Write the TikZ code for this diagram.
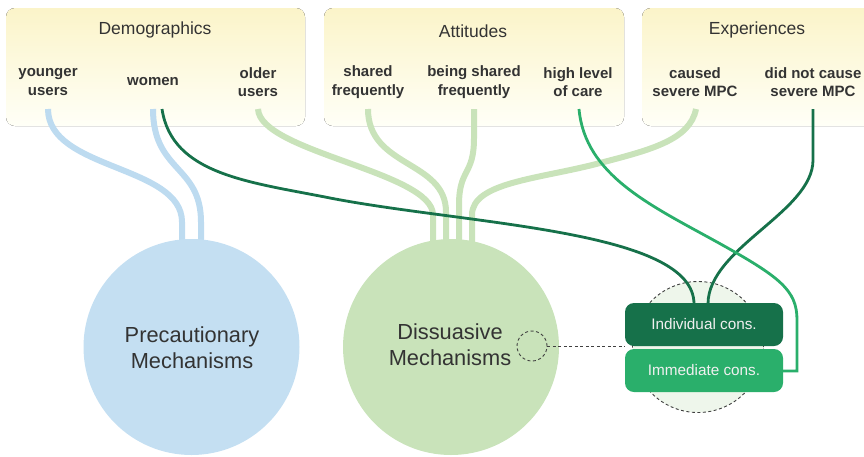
\documentclass[tikz,border=0pt]{standalone}
\usepackage{fontspec}
\setmainfont{Liberation Sans}
\definecolor{txt}{HTML}{333333}
\definecolor{boxtop}{HTML}{FBF4C9}
\definecolor{boxbot}{HTML}{FFFFF7}
\definecolor{lblue}{HTML}{C4DFF2}
\definecolor{lblueline}{HTML}{BDDBF0}
\definecolor{lgreen}{HTML}{C9E3BA}
\definecolor{lgreenline}{HTML}{C9E3BA}
\definecolor{dgreen}{HTML}{16714A}
\definecolor{mgreen}{HTML}{2AAF6B}
\definecolor{halo}{HTML}{EEF6EB}
\tikzset{
  groupbox/.style={top color=boxtop, bottom color=boxbot, rounded corners=9pt, draw=none},
  grouptitle/.style={text=txt, font=\fontsize{17.5}{20}\selectfont, inner sep=0pt},
  factor/.style={text=txt, font=\bfseries\fontsize{15}{18.5}\selectfont, align=center, inner sep=0pt},
  mech/.style={circle, draw=none, minimum size=216pt, inner sep=0pt},
  mechtext/.style={text=txt, align=center, font=\fontsize{21.8}{26}\selectfont, inner sep=0pt},
  consbox/.style={rounded corners=9pt, minimum width=158pt, minimum height=43pt, inner sep=0pt, text={white!94!black}, font=\fontsize{15.3}{18}\selectfont},
  softline/.style={line width=6pt},
  hardline/.style={line width=2.8pt},
  dashring/.style={draw={black!75}, dash pattern=on 3pt off 2.5pt, line width=0.9pt}
}
\begin{document}
\begin{tikzpicture}[x=1pt,y=-1pt]
\useasboundingbox (0,0) rectangle (864,456);
% group boxes
\fill[groupbox] (6,8) rectangle (305,126);
\fill[groupbox] (324,8) rectangle (624,126);
\fill[groupbox] (642,8) rectangle (880,126);
\node[grouptitle] (tdem) at (155,30) {Demographics};
\node[grouptitle] (tatt) at (473,31) {Attitudes};
\node[grouptitle] (texp) at (757,30) {Experiences};
% factor labels
\node[factor] (young) at (48,82) {younger\\users};
\node[factor] (women) at (153,82) {women};
\node[factor] (older) at (258,82) {older\\users};
\node[factor] (shared) at (368,82) {shared\\frequently};
\node[factor] (being) at (474,82) {being shared\\frequently};
\node[factor] (care) at (578,82) {high level\\of care};
\node[factor] (caused) at (695,82) {caused\\severe MPC};
\node[factor] (notcause) at (813,82) {did not cause\\severe MPC};
% connector start points
\coordinate (s-young) at (48,109);
\coordinate (s-womenA) at (153,109);
\coordinate (s-womenB) at (162,109);
\coordinate (s-older) at (258,109);
\coordinate (s-shared) at (368,109);
\coordinate (s-being) at (474,109);
\coordinate (s-care) at (579,109);
\coordinate (s-caused) at (696,109);
\coordinate (s-not) at (813,109);
% halo behind consequence boxes
\node[circle, fill=halo, dashring, minimum size=131pt, inner sep=0pt] (halo) at (698,347) {};
% entry points
\coordinate (p-in1) at (182,244);
\coordinate (p-in2) at (201,244);
\coordinate (d-in1) at (433,244);
\coordinate (d-in2) at (446,244);
\coordinate (d-in3) at (459,244);
\coordinate (d-in4) at (472,244);
\coordinate (ind-in1) at (694,304);
\coordinate (ind-in2) at (708,304);
\coordinate (imm-in) at (783,371);
% soft lines
\draw[softline, lblueline] (s-young) .. controls (48,170) and (182,165) .. (182,222) -- (p-in1);
\draw[softline, lblueline] (s-womenA) .. controls (153,172) and (201,165) .. (201,222) -- (p-in2);
\draw[softline, lgreenline] (s-older) .. controls (260,152) and (433,172) .. (433,215) -- (d-in1);
\draw[softline, lgreenline] (s-shared) .. controls (368,168) and (446,160) .. (446,212) -- (d-in2);
\draw[softline, lgreenline] (s-being) -- (474,138) .. controls (474,176) and (459,168) .. (459,205) -- (d-in3);
\draw[softline, lgreenline] (s-caused) .. controls (690,140) and (650,150) .. (600,163) .. controls (540,179) and (472,182) .. (472,215) -- (d-in4);
% strong lines
\draw[hardline, dgreen] (s-womenB) .. controls (172,175) and (250,182) .. (330,198) .. controls (470,225) and (694,230) .. (ind-in1);
\draw[hardline, dgreen] (s-not) -- (813,160) .. controls (813,212) and (708,248) .. (ind-in2);
\draw[hardline, mgreen] (s-care) .. controls (585,175) and (650,205) .. (717,242) .. controls (780,277) and (797,290) .. (797,320) -- (797,371) -- (imm-in);
% mechanisms
\node[mech, fill=lblue] (prec) at (191.5,347) {};
\node[mechtext] (prectext) at (192,348) {Precautionary\\Mechanisms};
\node[mech, fill=lgreen] (diss) at (451,347) {};
\node[mechtext] (disstext) at (450,345) {Dissuasive\\Mechanisms};
\node[circle, dashring, minimum size=30pt, inner sep=0pt] (ring) at (532,346) {};
% consequence boxes
\node[consbox, fill=dgreen] (ind) at (704,324.5) {Individual cons.};
\node[consbox, fill=mgreen] (imm) at (704,370.5) {Immediate cons.};
\draw[dashring] (ring.east) -- (ind.west |- ring.east);
\end{tikzpicture}
\end{document}
